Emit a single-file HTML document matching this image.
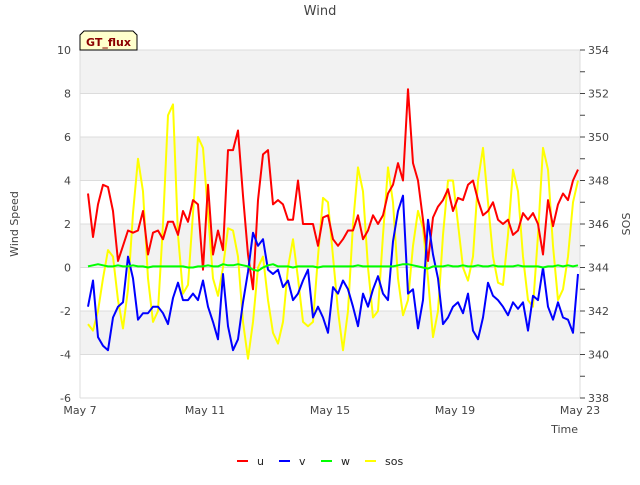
<!DOCTYPE html>
<html><head><meta charset="utf-8"><style>
body{margin:0;background:#fff;font-family:"Liberation Sans","DejaVu Sans",sans-serif}
svg text{font-family:"DejaVu Sans","Liberation Sans",sans-serif}
</style></head><body>
<svg id="chart" width="640" height="480" viewBox="0 0 640 480" xmlns="http://www.w3.org/2000/svg">
<rect width="640" height="480" fill="#fff"/>
<text x="320" y="15" text-anchor="middle" font-size="13" fill="#444">Wind</text>
<g id="bands"></g>
<g id="grid"></g>
<g id="axes"></g>
<g id="series"></g>
<g>
<path d="M80,50 L80,35 L84,31 L133,31 L137,35 L137,50 Z" fill="#ffffcc" stroke="#000" stroke-width="1"/>
<text x="108.5" y="46" text-anchor="middle" font-size="11" font-weight="bold" fill="#8b0000">GT_flux</text>
</g>
<text transform="translate(18,224) rotate(-90)" text-anchor="middle" font-size="11" fill="#444">Wind Speed</text>
<text transform="translate(630,224) rotate(-90)" text-anchor="middle" font-size="11" fill="#444">SOS</text>
<text x="578" y="433" text-anchor="end" font-size="11" fill="#444">Time</text>
<g id="legend"></g>
</svg>
<script>
const xTickLabels=["May 7","May 11","May 15","May 19","May 23"];
const xTickDays=[0,4,8,12,16];
const yTicks=[-6,-4,-2,0,2,4,6,8,10];
const y2Ticks=[338,340,342,344,346,348,350,352,354];
const tStart=0.256, tStep=0.16;
const uVals=[3.4,1.4,2.9,3.8,3.7,2.6,0.3,1.0,1.7,1.6,1.7,2.6,0.6,1.6,1.7,1.3,2.1,2.1,1.5,2.6,2.1,3.1,2.9,-0.1,3.8,0.6,1.7,0.8,5.4,5.4,6.3,3.3,0.6,-1.0,3.1,5.2,5.4,2.9,3.1,2.9,2.2,2.2,4.0,2.0,2.0,2.0,1.0,2.3,2.4,1.3,1.0,1.3,1.7,1.7,2.4,1.3,1.7,2.4,2.0,2.4,3.4,3.8,4.8,4.0,8.2,4.8,4.0,2.2,0.3,2.3,2.8,3.1,3.6,2.6,3.2,3.1,3.8,4.0,3.1,2.4,2.6,3.0,2.2,2.0,2.2,1.5,1.7,2.5,2.2,2.5,2.0,0.6,3.1,1.9,2.9,3.4,3.1,4.0,4.5];
const vVals=[-1.8,-0.6,-3.2,-3.6,-3.8,-2.3,-1.8,-1.6,0.5,-0.5,-2.4,-2.1,-2.1,-1.8,-1.8,-2.1,-2.6,-1.4,-0.7,-1.5,-1.5,-1.2,-1.5,-0.6,-1.8,-2.5,-3.3,-0.3,-2.7,-3.8,-3.3,-1.6,-0.2,1.6,1.0,1.3,-0.1,-0.3,-0.1,-0.9,-0.6,-1.5,-1.2,-0.6,-0.1,-2.3,-1.8,-2.3,-3.0,-0.9,-1.2,-0.6,-1.0,-1.8,-2.7,-1.2,-1.8,-1.0,-0.4,-1.2,-1.5,1.2,2.6,3.3,-1.2,-1.0,-2.8,-1.5,2.2,0.6,-0.5,-2.6,-2.3,-1.8,-1.6,-2.1,-1.2,-2.9,-3.3,-2.3,-0.7,-1.3,-1.5,-1.8,-2.2,-1.6,-1.9,-1.6,-2.9,-1.3,-1.5,0.0,-1.8,-2.4,-1.6,-2.3,-2.4,-3.0,-0.3];
const wVals=[0.05,0.1,0.15,0.1,0.05,0.05,0.1,0.05,0.05,0.1,0.05,0.05,0.0,0.05,0.05,0.05,0.05,0.05,0.05,0.05,0.0,0.0,0.05,0.05,0.1,0.05,0.05,0.15,0.1,0.1,0.15,0.1,0.05,-0.1,-0.15,0.0,0.1,0.15,0.05,0.05,0.05,0.0,0.05,0.05,0.05,0.05,0.0,0.05,0.05,0.05,0.05,0.05,0.05,0.05,0.1,0.05,0.05,0.05,0.05,0.05,0.05,0.05,0.1,0.15,0.15,0.1,0.05,0.0,-0.05,0.05,0.05,0.05,0.1,0.05,0.05,0.1,0.05,0.05,0.1,0.05,0.05,0.1,0.05,0.05,0.05,0.05,0.1,0.05,0.05,0.05,0.05,0.0,0.05,0.05,0.1,0.05,0.1,0.05,0.1];
const sosVals=[341.4,341.1,342,343.5,344.8,344.5,342.5,341.2,343,346.5,349,347.5,343.5,341.5,342,346,351,351.5,345.5,342.8,343.2,346.5,350,349.5,346.5,343.5,342.7,344,345.8,345.7,344.5,341.5,339.8,341.5,344,344.5,342.5,341,340.5,341.5,344,345.3,343.5,341.5,341.3,341.5,344.5,347.2,347,344.5,342,340.2,342,346,348.6,347.5,344,341.7,342,345.5,348.6,347,343.5,341.8,342.5,345,346.6,345.8,343.5,340.8,342,345.5,348,348,346,344,343.4,344.5,348,349.5,347,344.5,343.3,343.2,345.5,348.5,347.5,344.5,342.5,342.2,345.5,349.5,348.5,345,342.5,343,344.5,347,348];

const X0=80,X1=580,Y0=50,Y1=398;
const xs=d=>X0+(d/16)*(X1-X0);
const ys=v=>Y0+(10-v)/16*(Y1-Y0);
const ys2=v=>Y0+(354-v)/16*(Y1-Y0);
const NS="http://www.w3.org/2000/svg";
function mk(tag,attrs,parent){const e=document.createElementNS(NS,tag);for(const k in attrs)e.setAttribute(k,attrs[k]);parent.appendChild(e);return e;}
const bands=document.getElementById('bands'),grid=document.getElementById('grid'),axes=document.getElementById('axes'),series=document.getElementById('series'),legend=document.getElementById('legend');
for(let i=0;i<yTicks.length-1;i++){
  const lo=yTicks[i],hi=yTicks[i+1];
  const r=mk('rect',{x:X0,y:ys(hi),width:X1-X0,height:ys(lo)-ys(hi),fill:(i%2===1)?'#f2f2f2':'#ffffff'},bands);
  
  
}
yTicks.forEach(v=>{
  const l=mk('line',{x1:X0,x2:X1,y1:ys(v),y2:ys(v),stroke:'#dcdcdc','stroke-width':1},grid);
  
  
  const t=mk('text',{x:X0-9,y:ys(v)+4,'text-anchor':'end','font-size':11,fill:'#444'},axes);
  t.textContent=v;
  
  
});
mk('line',{x1:X0,x2:X0,y1:Y0,y2:Y1,stroke:'#dcdcdc'},axes);
mk('line',{x1:X1,x2:X1,y1:Y0,y2:Y1,stroke:'#dcdcdc'},axes);
for(let v=338;v<=354;v++){mk('line',{x1:X1,x2:X1+5,y1:ys2(v),y2:ys2(v),stroke:'#444'},axes);}
y2Ticks.forEach(v=>{
  const t=mk('text',{x:X1+8,y:ys2(v)+4,'font-size':11,fill:'#444'},axes);
  t.textContent=v;
  
  
});
xTickDays.forEach((d,i)=>{
  const t=mk('text',{x:xs(d),y:Y1+16,'text-anchor':'middle','font-size':11,fill:'#444'},axes);
  t.textContent=xTickLabels[i];
  
  
});
function drawLine(vals,scale,color,name){
  const pts=vals.map((v,i)=>xs(tStart+i*tStep).toFixed(1)+','+scale(v).toFixed(1)).join(' ');
  const p=mk('polyline',{points:pts,fill:'none',stroke:color,'stroke-width':2,'stroke-linejoin':'round'},series);
  
  
}
drawLine(sosVals,ys2,'#ffff00','series-sos');
drawLine(uVals,ys,'#ff0000','series-u');
drawLine(vVals,ys,'#0000ff','series-v');
drawLine(wVals,ys,'#00ff00','series-w');
const legNames=["u","v","w","sos"],legColors=["#ff0000","#0000ff","#00ff00","#ffff00"],legX=[237,279,321,365];
legNames.forEach((n,i)=>{
  const g=mk('g',{},legend);
  
  
  mk('line',{x1:legX[i],x2:legX[i]+11,y1:461,y2:461,stroke:legColors[i],'stroke-width':2},g);
  const t=mk('text',{x:legX[i]+20,y:465,'font-size':11,fill:'#222'},g);
  t.textContent=n;
});
</script>
</body></html>
